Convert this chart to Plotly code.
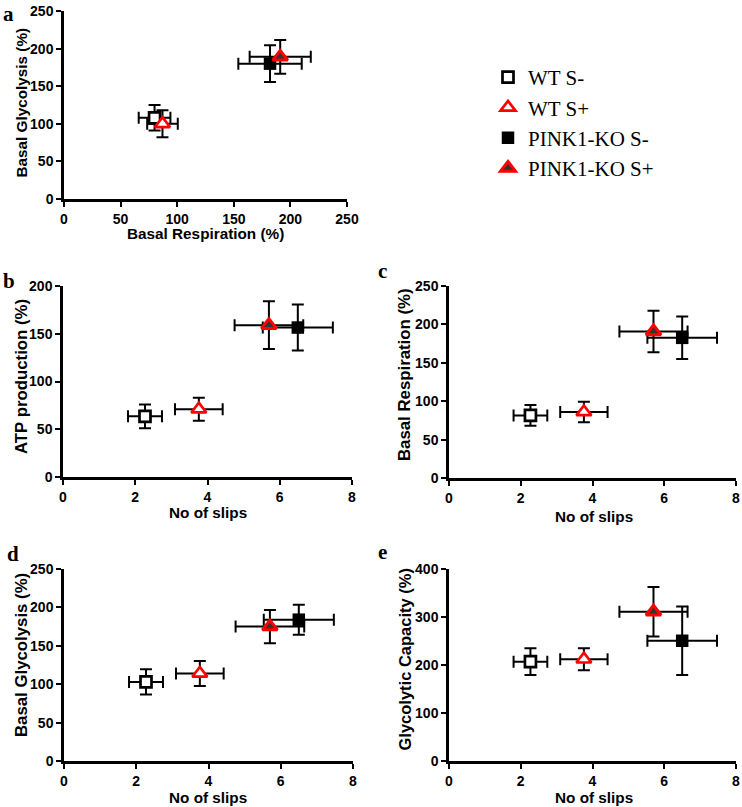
import plotly.graph_objects as go

W, H = 742, 807

groups = ["WT S-", "WT S+", "PINK1-KO S-", "PINK1-KO S+"]

# Panel a: Basal Respiration (x) vs Basal Glycolysis (y)
a_resp = [80, 87, 182, 191]
a_resp_err = [14, 13.5, 28, 27]
a_glyc = [108, 100, 180, 189]
a_glyc_err = [17, 18, 24.5, 22.5]

# Panels b-e: No of slips (x)
slips = [2.27, 3.76, 6.5, 5.7]
slips_err = [0.47, 0.66, 0.97, 0.95]

atp = [63.5, 71, 156.5, 159]
atp_err = [12.5, 12, 24, 25]
resp = [81.5, 86, 182.5, 190.7]
resp_err = [13.5, 13.3, 27.7, 27]
glyc = [103, 114, 184, 175]
glyc_err = [16.5, 16.3, 19.6, 21.7]
gcap = [207, 212, 250.5, 311]
gcap_err = [28, 22.7, 71.5, 51.6]


def fx(px):
    return px / W


def fy(py):
    return 1 - py / H


markers = [
    dict(symbol="square", size=11, color="white", line=dict(width=2.7, color="black")),
    dict(symbol="triangle-up", size=13, color="white", line=dict(width=2.7, color="red")),
    dict(symbol="square", size=12.5, color="black", line=dict(width=0, color="black")),
    dict(symbol="triangle-up", size=13, color="#333333", line=dict(width=3, color="red")),
]

fig = go.Figure()

panels = [
    ("x", "y", a_resp, a_resp_err, a_glyc, a_glyc_err, True),
    ("x2", "y2", slips, slips_err, atp, atp_err, False),
    ("x3", "y3", slips, slips_err, resp, resp_err, False),
    ("x4", "y4", slips, slips_err, glyc, glyc_err, False),
    ("x5", "y5", slips, slips_err, gcap, gcap_err, False),
]

for xa, ya, xs, xe, ys, ye, leg in panels:
    for i, g in enumerate(groups):
        fig.add_trace(go.Scatter(
            x=[xs[i]], y=[ys[i]], mode="markers", name=g,
            xaxis=xa, yaxis=ya, showlegend=leg,
            marker=markers[i],
            error_x=dict(type="data", array=[xe[i]], color="black", thickness=2, width=6),
            error_y=dict(type="data", array=[ye[i]], color="black", thickness=2, width=6),
        ))

tickfont = dict(family="Liberation Sans", size=14, color="black", weight="bold")
common = dict(showline=True, linecolor="black", linewidth=2.5, ticks="outside",
              ticklen=5, tickwidth=2, tickcolor="black", showgrid=False,
              zeroline=False, tickfont=tickfont, fixedrange=True, automargin=False)

# domains in pixels: (x0, x1, ytop, ybottom)
doms = [
    (64, 347, 11, 199),
    (63, 352, 286, 477),
    (449, 736, 286, 478),
    (64, 353, 569, 761),
    (449, 736, 569, 761),
]
xranges = [[0, 250], [0, 8], [0, 8], [0, 8], [0, 8]]
xdt = [50, 2, 2, 2, 2]
yranges = [[0, 250], [0, 200], [0, 250], [0, 250], [0, 400]]
ydt = [50, 50, 50, 50, 100]

layout = dict(width=W, height=H,
              margin=dict(l=0, r=0, t=0, b=0, pad=0, autoexpand=False),
              paper_bgcolor="white", plot_bgcolor="white")
for k in range(5):
    sfx = "" if k == 0 else str(k + 1)
    x0, x1, yt, yb = doms[k]
    layout["xaxis" + sfx] = dict(common, domain=[fx(x0), fx(x1)], range=xranges[k],
                                 dtick=xdt[k], tick0=0, anchor="y" + sfx)
    layout["yaxis" + sfx] = dict(common, domain=[fy(yb), fy(yt)], range=yranges[k],
                                 dtick=ydt[k], tick0=0, anchor="x" + sfx)

fig.update_layout(**layout)

fig.update_layout(legend=dict(
    x=fx(488), y=fy(57), xanchor="left", yanchor="top",
    font=dict(family="Liberation Serif", size=21, color="black"),
    bgcolor="rgba(0,0,0,0)", itemsizing="trace", tracegroupgap=0,
))

ann = []
labels = [("a", 2, 14), ("b", 2, 281), ("c", 377, 271), ("d", 6, 554), ("e", 377, 552)]
for t, x, y in labels:
    ann.append(dict(text=t, x=fx(x), y=fy(y), xref="paper", yref="paper",
                    xanchor="left", yanchor="middle", showarrow=False, borderpad=0,
                    font=dict(family="Liberation Serif", size=21, color="black", weight="bold")))

titles = [
    ("Basal Glycolysis (%)", 20.5, 103, -90, 15.3),
    ("Basal Respiration (%)", 205.5, 233, 0, 15.3),
    ("ATP production (%)", 21, 377, -90, 16.8),
    ("No of slips", 208, 512, 0, 15.3),
    ("Basal Respiration (%)", 404.5, 374.5, -90, 16.8),
    ("No of slips", 593.5, 516, 0, 15.3),
    ("Basal Glycolysis (%)", 21, 655, -90, 16.8),
    ("No of slips", 208, 797, 0, 15.3),
    ("Glycolytic Capacity (%)", 404.5, 660, -90, 16.5),
    ("No of slips", 593.5, 797, 0, 15.3),
]
for t, x, y, ang, sz in titles:
    ann.append(dict(text=t, x=fx(x), y=fy(y), xref="paper", yref="paper",
                    xanchor="center", yanchor="middle", showarrow=False, textangle=ang,
                    font=dict(family="Liberation Sans", size=sz, color="black", weight="bold")))

fig.update_layout(annotations=ann)

fig.write_html("out.html", config={"displayModeBar": False},
               post_script="document.body.style.margin='0';document.body.style.padding='0';")
